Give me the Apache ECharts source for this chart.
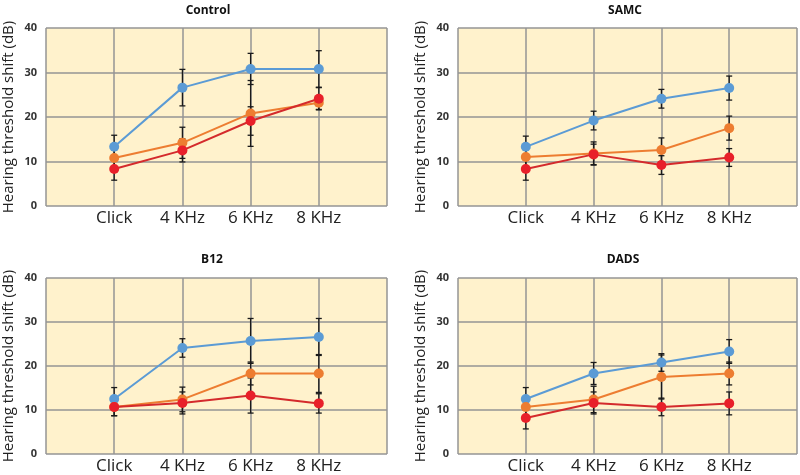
<!DOCTYPE html>
<html>
<head>
<meta charset="utf-8">
<script src="https://cdn.jsdelivr.net/npm/echarts@6/dist/echarts.min.js"></script>
<style>html,body{margin:0;padding:0;background:#fff;}#c{width:800px;height:475px;}</style>
</head>
<body>
<div id="c"></div>
<script>
var categories = ['Click', '4 KHz', '6 KHz', '8 KHz'];
var panelTitles = ['Control', 'SAMC', 'B12', 'DADS'];
var yTicks = [0, 10, 20, 30, 40];

var controlBlue = [13.3, 26.6, 30.8, 30.8];
var controlBlueErr = [2.6, 4.1, 3.5, 4.1];
var controlOrange = [10.8, 14.2, 20.8, 23.2];
var controlOrangeErr = [2.5, 3.5, 7.4, 1.5];
var controlRed = [8.3, 12.5, 19.1, 24.1];
var controlRedErr = [2.5, 2.6, 3.2, 2.5];

var samcBlue = [13.3, 19.2, 24.1, 26.5];
var samcBlueErr = [2.4, 2.1, 2.1, 2.7];
var samcOrange = [11.0, 11.8, 12.6, 17.5];
var samcOrangeErr = [2.5, 2.6, 2.7, 2.7];
var samcRed = [8.3, 11.6, 9.2, 10.9];
var samcRedErr = [2.5, 2.3, 2.1, 2.0];

var b12Blue = [12.5, 24.1, 25.7, 26.6];
var b12BlueErr = [2.6, 2.1, 5.1, 4.2];
var b12Orange = [10.7, 12.4, 18.3, 18.3];
var b12OrangeErr = [2.0, 2.8, 2.6, 4.3];
var b12Red = [10.7, 11.6, 13.3, 11.5];
var b12RedErr = [2.0, 2.5, 4.0, 2.2];

var dadsBlue = [12.5, 18.3, 20.8, 23.3];
var dadsBlueErr = [2.6, 2.5, 2.0, 2.7];
var dadsOrange = [10.7, 12.4, 17.5, 18.3];
var dadsOrangeErr = [2.0, 3.0, 5.0, 2.6];
var dadsRed = [8.2, 11.6, 10.7, 11.5];
var dadsRedErr = [2.5, 2.5, 2.0, 2.6];

var panelData = [
  [[controlBlue, controlBlueErr], [controlOrange, controlOrangeErr], [controlRed, controlRedErr]],
  [[samcBlue, samcBlueErr], [samcOrange, samcOrangeErr], [samcRed, samcRedErr]],
  [[b12Blue, b12BlueErr], [b12Orange, b12OrangeErr], [b12Red, b12RedErr]],
  [[dadsBlue, dadsBlueErr], [dadsOrange, dadsOrangeErr], [dadsRed, dadsRedErr]]
];

var lineColors = ['#5b9bd5', '#ed7d31', '#d42a2c'];
var markColors = ['#5b9bd5', '#ed7d31', '#e8202a'];
var gridBoxes = [
  {left: 45, top: 28, width: 342, height: 178},
  {left: 458, top: 28, width: 341, height: 178},
  {left: 45, top: 278, width: 342, height: 177},
  {left: 458, top: 278, width: 341, height: 177}
];
var titlePos = [[203, 0], [620, 0], [207, 249], [618, 249]];
var gridColor = '#959595';
var font = '"Open Sans", "Liberation Sans", sans-serif';

var grids = [], xAxes = [], yAxes = [], series = [], titles = [];
for (var p = 0; p < 4; p++) {
  var g = gridBoxes[p];
  grids.push({left: g.left, top: g.top, width: g.width, height: g.height, show: true,
    backgroundColor: '#fff2cc', borderWidth: 0});
  titles.push({text: panelTitles[p], left: titlePos[p][0], top: titlePos[p][1], textAlign: 'center',
    textStyle: {fontSize: 12, fontWeight: 'bold', color: '#111', fontFamily: font}});
  xAxes.push({type: 'value', gridIndex: p, min: 0, max: 5, interval: 1,
    axisLine: {show: false}, axisTick: {show: false},
    splitLine: {show: true, lineStyle: {color: gridColor, width: 1.5}},
    axisLabel: {fontSize: 17, color: '#222', fontFamily: font, margin: 4,
      formatter: function (v) { return (v >= 1 && v <= 4) ? categories[v - 1] : ''; }}});
  yAxes.push({type: 'value', gridIndex: p, min: 0, max: 40, interval: 10,
    name: 'Hearing threshold shift (dB)', nameLocation: 'middle', nameGap: 30,
    nameTextStyle: {fontSize: 15, color: '#222', fontFamily: font},
    axisLine: {show: false}, axisTick: {show: false},
    splitLine: {show: true, lineStyle: {color: gridColor, width: 1.5}},
    axisLabel: {fontSize: 11, fontWeight: 'bold', color: '#333', fontFamily: font, margin: 9,
      formatter: function (v) { return yTicks.indexOf(v) >= 0 ? String(v) : ''; }}});
  for (var s = 0; s < 3; s++) {
    var vals = panelData[p][s][0], errs = panelData[p][s][1];
    var errData = [], ptData = [];
    for (var i = 0; i < categories.length; i++) {
      errData.push([i + 1, vals[i] - errs[i], vals[i] + errs[i]]);
      ptData.push([i + 1, vals[i]]);
    }
    series.push({type: 'custom', xAxisIndex: p, yAxisIndex: p, z: 3, silent: true,
      data: errData, encode: {x: 0, y: [1, 2]},
      renderItem: function (params, api) {
        var lo = api.coord([api.value(0), api.value(1)]);
        var hi = api.coord([api.value(0), api.value(2)]);
        var w = 3;
        var st = {stroke: '#1a1a1a', lineWidth: 1.3};
        return {type: 'group', children: [
          {type: 'line', shape: {x1: lo[0], y1: lo[1], x2: hi[0], y2: hi[1]}, style: st},
          {type: 'line', shape: {x1: lo[0] - w, y1: lo[1], x2: lo[0] + w, y2: lo[1]}, style: st},
          {type: 'line', shape: {x1: hi[0] - w, y1: hi[1], x2: hi[0] + w, y2: hi[1]}, style: st}
        ]};
      }});
    series.push({type: 'line', xAxisIndex: p, yAxisIndex: p, z: 4, data: ptData,
      symbol: 'circle', symbolSize: 10, showSymbol: true,
      lineStyle: {color: lineColors[s], width: 2},
      itemStyle: {color: markColors[s], borderWidth: 0}});
  }
}

var chart = echarts.init(document.getElementById('c'), null, {renderer: 'canvas'});
chart.setOption({animation: false, backgroundColor: '#ffffff', title: titles,
  grid: grids, xAxis: xAxes, yAxis: yAxes, series: series});
</script>
</body>
</html>
